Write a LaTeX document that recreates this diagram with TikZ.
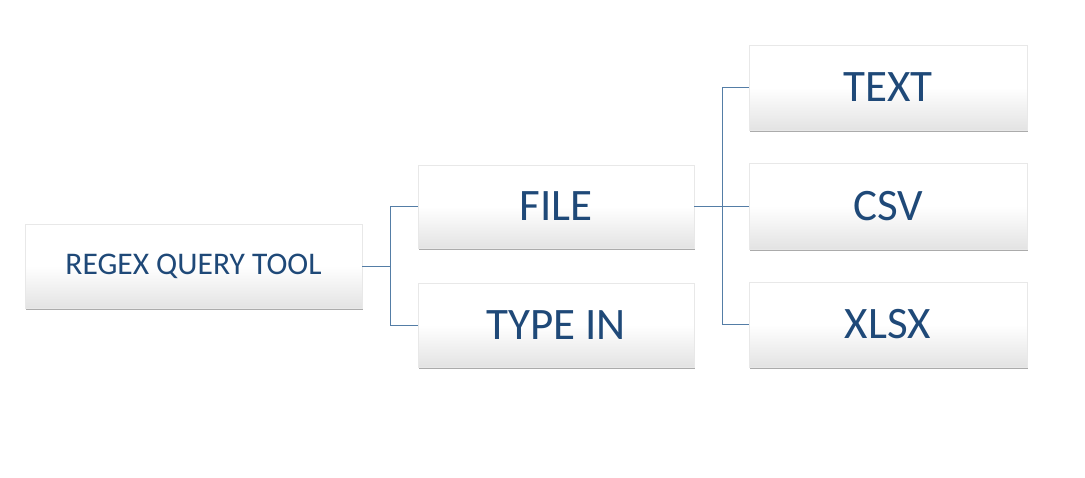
\documentclass[tikz,border=0pt]{standalone}
\usepackage{fontspec}
\setmainfont{Carlito}
\usetikzlibrary{shadows}
\definecolor{txtblue}{RGB}{31,73,120}
\definecolor{linkblue}{RGB}{84,125,166}
\definecolor{boxedge}{RGB}{232,232,232}
\tikzset{
  box/.style={draw=boxedge, line width=0.3pt, top color=white, bottom color=black!11, middle color=white,
    shading angle=0, text=txtblue, inner sep=0pt,
    drop shadow={shadow xshift=1pt, shadow yshift=-1.6pt, opacity=0.5, fill=black!65}},
  bigtxt/.style={font=\fontsize{45}{50}\selectfont},
  smalltxt/.style={font=\fontsize{31.5}{36}\selectfont},
  link/.style={draw=linkblue, line width=0.9pt}
}
\begin{document}
\begin{tikzpicture}[x=1pt,y=-1pt]
\useasboundingbox (0,0) rectangle (1085,477);
\fill[white] (0,0) rectangle (1085,477);
\node[box, smalltxt, minimum width=337pt, minimum height=84pt] (root) at (193.5,266) {REGEX QUERY TOOL};
\node[box, bigtxt, minimum width=276pt, minimum height=83pt] (file) at (556,206.5) {FILE};
\node[box, bigtxt, minimum width=276pt, minimum height=84pt] (typein) at (556,325) {TYPE IN};
\node[box, bigtxt, minimum width=278pt, minimum height=85pt] (text) at (888,87.5) {TEXT};
\node[box, bigtxt, minimum width=278pt, minimum height=86pt] (csv) at (888,206) {CSV};
\node[box, bigtxt, minimum width=278pt, minimum height=85pt] (xlsx) at (888,324.5) {XLSX};
\coordinate (j1) at (390,266);
\coordinate (j2) at (722,206.5);
\draw[link] (root.east) -- (j1);
\draw[link] (j1) |- (file.west);
\draw[link] (j1) |- (typein.west);
\draw[link] (file.east) -- (j2);
\draw[link] (j2) |- (text.west);
\draw[link] (j2) |- (csv.west);
\draw[link] (j2) |- (xlsx.west);
\end{tikzpicture}
\end{document}
